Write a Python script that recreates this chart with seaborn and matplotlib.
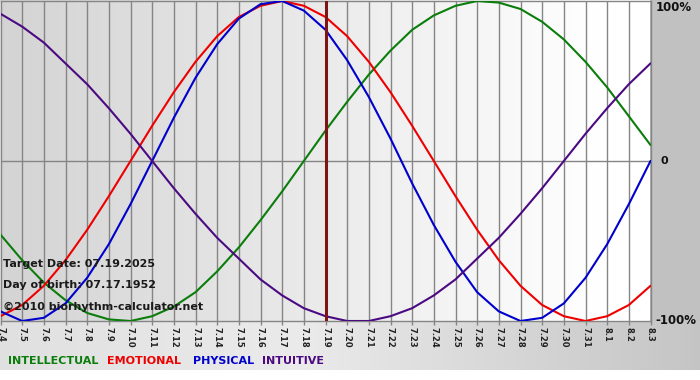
import numpy as np
import pandas as pd
import seaborn as sns
import matplotlib.pyplot as plt

# days shown on the x axis (07.04 .. 08.03)
day_labels = ['7.4', '7.5', '7.6', '7.7', '7.8', '7.9', '7.10', '7.11', '7.12', '7.13',
              '7.14', '7.15', '7.16', '7.17', '7.18', '7.19', '7.20', '7.21', '7.22', '7.23',
              '7.24', '7.25', '7.26', '7.27', '7.28', '7.29', '7.30', '7.31', '8.1', '8.2', '8.3']

intellectual = [-0.46, -0.62, -0.76, -0.87, -0.95, -0.99, -1.00, -0.97, -0.91, -0.82,
                -0.69, -0.54, -0.37, -0.19, 0.00, 0.19, 0.37, 0.54, 0.69, 0.82,
                0.91, 0.97, 1.00, 0.99, 0.95, 0.87, 0.76, 0.62, 0.46, 0.28, 0.10]
emotional = [-0.97, -0.90, -0.78, -0.62, -0.43, -0.22, 0.00, 0.22, 0.43, 0.62,
             0.78, 0.90, 0.97, 1.00, 0.97, 0.90, 0.78, 0.62, 0.43, 0.22,
             0.00, -0.22, -0.43, -0.62, -0.78, -0.90, -0.97, -1.00, -0.97, -0.90, -0.78]
physical = [-0.94, -1.00, -0.98, -0.89, -0.73, -0.52, -0.27, 0.00, 0.27, 0.52,
            0.73, 0.89, 0.98, 1.00, 0.94, 0.82, 0.63, 0.40, 0.14, -0.14,
            -0.40, -0.63, -0.82, -0.94, -1.00, -0.98, -0.89, -0.73, -0.52, -0.27, 0.00]
intuitive = [0.92, 0.84, 0.74, 0.61, 0.48, 0.33, 0.17, 0.00, -0.17, -0.33,
             -0.48, -0.61, -0.74, -0.84, -0.92, -0.97, -1.00, -1.00, -0.97, -0.92,
             -0.84, -0.74, -0.61, -0.48, -0.33, -0.17, 0.00, 0.17, 0.33, 0.48, 0.61]

target_day = '7.19'
target_text = 'Target Date: 07.19.2025'
birth_text = 'Day of birth: 07.17.1952'
copy_text = '\u00a92010 biorhythm-calculator.net'

series = {
    'INTELLECTUAL': (intellectual, '#0a7d0a'),
    'EMOTIONAL': (emotional, '#ee0000'),
    'PHYSICAL': (physical, '#0000cc'),
    'INTUITIVE': (intuitive, '#4b0a82'),
}

sns.set_style('white')
plt.rcParams['font.family'] = ['DejaVu Sans']

W, H = 700, 380
fig = plt.figure(figsize=(W / 100, H / 100), dpi=100)

# background: grey gradients like the original widget
xs = np.arange(W)
bg = np.ones((H, W))
bg[:321, :650] = (0.83 + 0.17 * np.clip(xs[:650] / 600, 0, 1))[None, :]
bg[:321, 650:] = 0.76
bottom = np.interp(xs, [0, 300, 700], [0.88, 0.92, 0.77])
bg[321:370, :] = bottom[None, :]
bg_ax = fig.add_axes([0, 0, 1, 1])
bg_ax.imshow(np.dstack([bg, bg, bg]), aspect='auto', interpolation='bilinear')
bg_ax.axis('off')
bg_ax.set_zorder(-1)

ax = fig.add_axes([0.5 / W, 1 - 321 / H, 650 / W, 320 / H])
ax.set_facecolor('none')

df = pd.DataFrame({'day': np.arange(len(day_labels))})
for name, (vals, col) in series.items():
    df[name] = vals
    sns.lineplot(data=df, x='day', y=name, color=col, linewidth=1.5, ax=ax, zorder=3)

# vertical day grid and zero line
for i in range(len(day_labels)):
    ax.axvline(i, color='#858585', linewidth=1.0, zorder=1)
ax.axhline(0, color='#858585', linewidth=1.0, zorder=1)
ax.axvline(day_labels.index(target_day), color='#7d1515', linewidth=2.2, zorder=4)

ax.set_xlim(0, len(day_labels) - 1)
ax.set_ylim(-1, 1)
ax.set_xlabel('')
ax.set_ylabel('')
ax.set_yticks([])
ax.set_xticks(range(len(day_labels)))
ax.set_xticklabels(day_labels, rotation=270, fontsize=6, fontweight='bold', color='#222222')
ax.tick_params(axis='x', length=3, width=1, color='#858585', pad=1, bottom=True)
for s in ax.spines.values():
    s.set_color('#858585')
    s.set_linewidth(1.0)
ax.spines['left'].set_visible(False)

# right-hand scale labels
ytr = ax.get_yaxis_transform()
ax.text(1.008, 1.0, '100%', transform=ytr, ha='left', va='top', fontsize=8.5, fontweight='bold', color='#111111')
ax.text(1.015, 0.0, '0', transform=ytr, ha='left', va='center', fontsize=8, fontweight='bold', color='#111111')
ax.text(1.008, -1.0, '-100%', transform=ytr, ha='left', va='center', fontsize=8.5, fontweight='bold', color='#111111')

# info text in the lower left corner
for py, txt in [(264, target_text), (285, birth_text), (307, copy_text)]:
    fig.text(3 / W, 1 - py / H, txt, ha='left', va='center', fontsize=8, fontweight='bold', color='#1a1a1a')

# coloured legend words
legend_x = [8, 107, 193, 262]
for px, (name, (_, col)) in zip(legend_x, series.items()):
    fig.text(px / W, 1 - 361 / H, name, ha='left', va='center', fontsize=8, fontweight='bold', color=col)

fig.savefig('out.png', dpi=100)
